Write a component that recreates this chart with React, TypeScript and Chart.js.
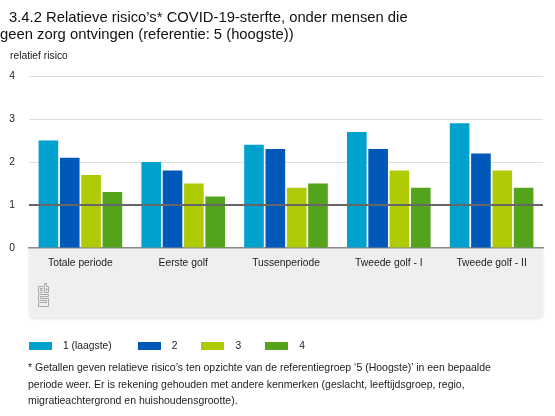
import React, { useEffect, useRef } from "react";
import { Chart, registerables } from "chart.js";

Chart.register(...registerables);

const categories = ["Totale periode", "Eerste golf", "Tussenperiode", "Tweede golf - I", "Tweede golf - II"];
const seriesNames = ["1 (laagste)", "2", "3", "4"];
const group1 = [2.5, 2.0, 2.4, 2.7, 2.9];
const group2 = [2.1, 1.8, 2.3, 2.3, 2.2];
const group3 = [1.7, 1.5, 1.4, 1.8, 1.8];
const group4 = [1.3, 1.2, 1.5, 1.4, 1.4];
const colors = ["#00a1cd", "#0058b8", "#afcb05", "#53a31d"];
const yTicks = [0, 1, 2, 3, 4];
const referenceValue = 1;

const FONT = "'Liberation Sans', Arial, Helvetica, sans-serif";

const bgPlugin = {
  id: "bgbox",
  beforeDraw(chart: any) {
    const { ctx, chartArea } = chart;
    const x0 = chartArea.left, x1 = chartArea.right, y0 = chartArea.bottom, y1 = chartArea.bottom + 70;
    const r = 6;
    ctx.save();
    ctx.shadowColor = "rgba(0,0,0,0.12)";
    ctx.shadowBlur = 3;
    ctx.shadowOffsetY = 1;
    ctx.fillStyle = "#efefef";
    ctx.beginPath();
    ctx.moveTo(x0, y0);
    ctx.lineTo(x1, y0);
    ctx.lineTo(x1, y1 - r);
    ctx.quadraticCurveTo(x1, y1, x1 - r, y1);
    ctx.lineTo(x0 + r, y1);
    ctx.quadraticCurveTo(x0, y1, x0, y1 - r);
    ctx.closePath();
    ctx.fill();
    ctx.restore();
    // CBS logo (simplified)
    const lx = x0 + 9, ly = y0 + 35;
    ctx.save();
    ctx.strokeStyle = "#a8a8a8";
    ctx.lineWidth = 1;
    ctx.beginPath();
    ctx.moveTo(lx + 5, ly + 3.5); ctx.lineTo(lx + 0.5, ly + 3.5); ctx.lineTo(lx + 0.5, ly + 9.5); ctx.lineTo(lx + 5, ly + 9.5);
    ctx.moveTo(lx + 5, ly + 5.5); ctx.lineTo(lx + 2.5, ly + 5.5); ctx.lineTo(lx + 2.5, ly + 7.5); ctx.lineTo(lx + 5, ly + 7.5);
    ctx.moveTo(lx + 6.5, ly + 0.5); ctx.lineTo(lx + 6.5, ly + 9.5); ctx.lineTo(lx + 10.5, ly + 9.5); ctx.lineTo(lx + 10.5, ly + 3.5); ctx.lineTo(lx + 8.5, ly + 3.5); ctx.lineTo(lx + 8.5, ly + 0.5); ctx.closePath();
    ctx.rect(lx + 8.5, ly + 5.5, 0.5, 2);
    ctx.moveTo(lx + 10.5, ly + 11.5); ctx.lineTo(lx + 0.5, ly + 11.5); ctx.lineTo(lx + 0.5, ly + 17.5); ctx.lineTo(lx + 8.5, ly + 17.5); ctx.lineTo(lx + 8.5, ly + 19.5); ctx.lineTo(lx + 0.5, ly + 19.5); ctx.lineTo(lx + 0.5, ly + 23.5); ctx.lineTo(lx + 10.5, ly + 23.5); ctx.lineTo(lx + 10.5, ly + 15.5); ctx.lineTo(lx + 2.5, ly + 15.5); ctx.lineTo(lx + 2.5, ly + 13.5); ctx.lineTo(lx + 10.5, ly + 13.5); ctx.closePath();
    ctx.stroke();
    ctx.restore();
  },
};

const refLinePlugin = {
  id: "refline",
  afterDatasetsDraw(chart: any) {
    const { ctx, chartArea, scales } = chart;
    const y = scales.y.getPixelForValue(referenceValue);
    ctx.save();
    ctx.strokeStyle = "#666666";
    ctx.lineWidth = 2;
    ctx.beginPath();
    ctx.moveTo(chartArea.left, y);
    ctx.lineTo(chartArea.right, y);
    ctx.stroke();
    ctx.restore();
  },
};

function App() {
  const ref = useRef<HTMLCanvasElement>(null);
  useEffect(() => {
    if (!ref.current) return;
    const data = [group1, group2, group3, group4];
    const chart = new Chart(ref.current, {
      type: "bar",
      data: {
        labels: categories,
        datasets: seriesNames.map((n, i) => ({
          label: n,
          data: data[i],
          backgroundColor: colors[i],
          borderWidth: 0,
          categoryPercentage: 0.83,
          barPercentage: 0.92,
        })),
      },
      options: {
        animation: false,
        responsive: false,
        maintainAspectRatio: false,
        layout: { padding: { top: 76, right: 12, left: 0, bottom: 0 } },
        plugins: { legend: { display: false }, tooltip: { enabled: false }, title: { display: false } },
        scales: {
          x: {
            grid: { display: false, drawTicks: false },
            border: { display: true, color: "#8a8a8a", width: 1.5 },
            ticks: { padding: 9, color: "#222", font: { family: FONT, size: 10.3 }, maxRotation: 0 },
            afterFit: (s: any) => { s.height = 168; },
          },
          y: {
            min: 0,
            max: 4,
            afterBuildTicks: (s: any) => { s.ticks = yTicks.map((v) => ({ value: v })); },
            grid: {
              drawTicks: false,
              color: (c: any) => (c.tick && c.tick.value === 0 ? "rgba(0,0,0,0)" : "#dedede"),
              lineWidth: 1,
            },
            border: { display: false },
            ticks: { padding: 14, color: "#222", font: { family: FONT, size: 10.3 } },
            afterFit: (s: any) => { s.width = 29; },
          },
        },
      },
      plugins: [bgPlugin, refLinePlugin],
    } as any);
    return () => chart.destroy();
  }, []);

  const legendItem = (i: number) => (
    <span key={i} style={{ display: "inline-flex", alignItems: "center", marginRight: i === 0 ? 26 : 24 }}>
      <span style={{ display: "inline-block", width: 23, height: 8, background: colors[i], marginRight: 11 }} />
      <span>{seriesNames[i]}</span>
    </span>
  );

  return (
    <div style={{ position: "absolute", left: 0, top: 0, width: 555, height: 416, background: "#fff", fontFamily: FONT, color: "#222", overflow: "hidden" }}>
      <canvas ref={ref} width={555} height={416} style={{ position: "absolute", left: 0, top: 0 }} />
      <div style={{ position: "absolute", left: 0, top: 9, fontSize: 14.8, lineHeight: "17px", color: "#111", width: 540 }}>
        <div style={{ paddingLeft: 9 }}>3.4.2 Relatieve risico’s* COVID-19-sterfte, onder mensen die</div>
        <div>geen zorg ontvingen (referentie: 5 (hoogste))</div>
      </div>
      <div style={{ position: "absolute", left: 10, top: 50, fontSize: 10.3 }}>relatief risico</div>
      <div style={{ position: "absolute", left: 29, top: 339, fontSize: 10.3, display: "flex", alignItems: "center", lineHeight: "14px" }}>
        {seriesNames.map((_, i) => legendItem(i))}
      </div>
      <div style={{ position: "absolute", left: 28, top: 359, width: 527, fontSize: 10.5, lineHeight: "16.5px", whiteSpace: "nowrap" }}>
        * Getallen geven relatieve risico’s ten opzichte van de referentiegroep ‘5 (Hoogste)’ in een bepaalde<br />
        periode weer. Er is rekening gehouden met andere kenmerken (geslacht, leeftijdsgroep, regio,<br />
        migratieachtergrond en huishoudensgrootte).
      </div>
    </div>
  );
}

export default App;
